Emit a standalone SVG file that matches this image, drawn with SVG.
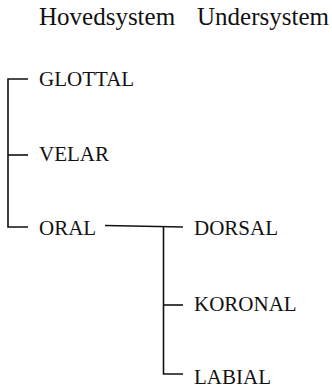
<svg xmlns="http://www.w3.org/2000/svg" width="332" height="388" viewBox="0 0 332 388">
  <style>
    text { font-family: 'Liberation Serif', 'Times New Roman', serif; fill: #111; }
    .hdr { font-size: 25px; }
    .lbl { font-size: 21px; }
    .ln { fill: none; stroke: #111; stroke-width: 1.6; }
  </style>
  <rect width="332" height="388" fill="#fff"/>

  <g id="headers">
    <text class="hdr" x="39" y="25">Hovedsystem</text>
    <text class="hdr" x="197" y="25">Undersystem</text>
  </g>

  <g id="connectors">
    <!-- main system bracket -->
    <path class="ln" d="M28 79 H8 V227 H28"/>
    <path class="ln" d="M8 155 H28"/>
    <!-- ORAL to subsystem -->
    <path class="ln" d="M105 225.5 L183 227"/>
    <path class="ln" d="M163.5 226.5 V374 H183"/>
    <path class="ln" d="M163.5 305 H183"/>
  </g>

  <g id="glottal"><text class="lbl" x="39" y="86">GLOTTAL</text></g>
  <g id="velar"><text class="lbl" x="39" y="161">VELAR</text></g>
  <g id="oral"><text class="lbl" x="39" y="235">ORAL</text></g>
  <g id="dorsal"><text class="lbl" x="194" y="235">DORSAL</text></g>
  <g id="koronal"><text class="lbl" x="194" y="310.5">KORONAL</text></g>
  <g id="labial"><text class="lbl" x="194" y="384">LABIAL</text></g>
</svg>
